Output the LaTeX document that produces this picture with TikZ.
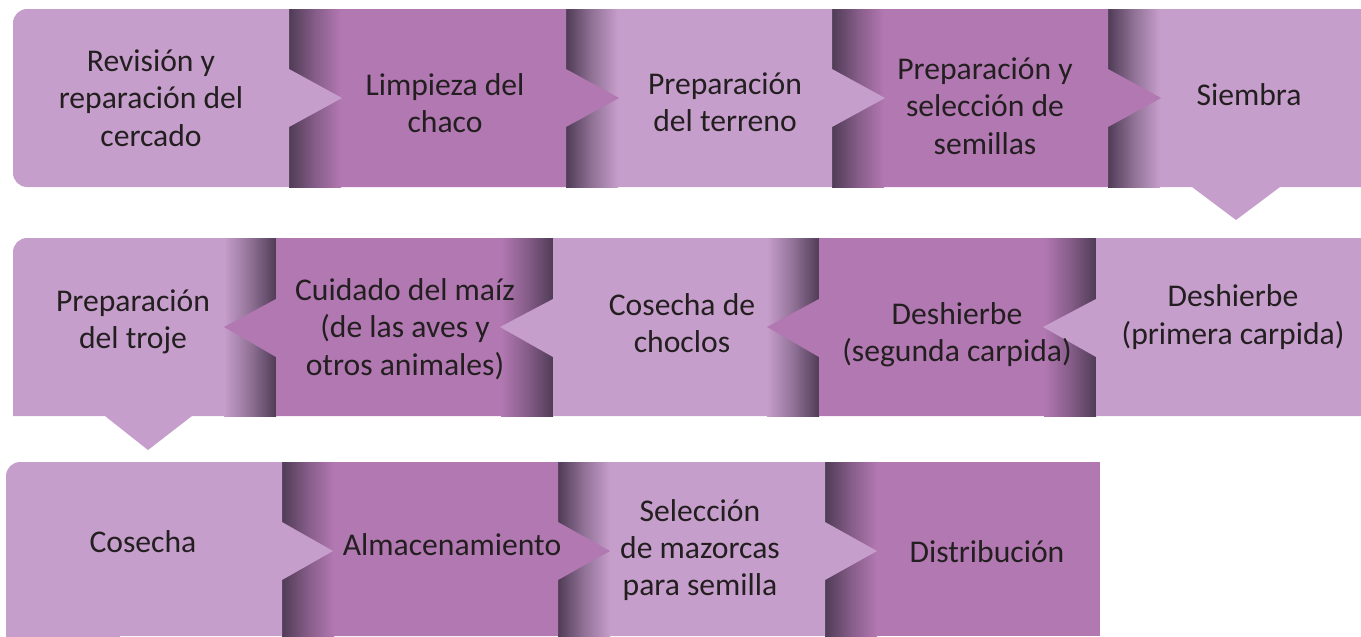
\documentclass[tikz,border=0pt]{standalone}
\usepackage{fontspec}
\setmainfont{Carlito}
\usepackage{tikz}
\usetikzlibrary{shadings}

\definecolor{lilaclight}{RGB}{198,158,203}
\definecolor{lilacdark}{RGB}{178,120,178}
\definecolor{lilacshade}{RGB}{80,60,86}
\definecolor{textgray}{RGB}{35,31,32}

\begin{document}
\begin{tikzpicture} [x=0.02cm, y=-0.02cm,
  light/.style={fill=lilaclight},
  dark/.style={fill=lilacdark},
  shadelight/.style={left color=lilacshade, right color=lilaclight, middle color=lilaclight!55!lilacshade},
  shadedark/.style={left color=lilacshade, right color=lilacdark, middle color=lilacdark!55!lilacshade},
  rshadelight/.style={right color=lilacshade, left color=lilaclight, middle color=lilaclight!55!lilacshade},
  rshadedark/.style={right color=lilacshade, left color=lilacdark, middle color=lilacdark!55!lilacshade},
  step text/.style={text=textgray, align=center, font=\fontsize{18}{21.3}\selectfont}]
\useasboundingbox (0,0) rectangle (1361,636);

% first row, arrows to the right
\fill[light] (1108,9) -- (1361,9) -- (1361,187) -- (1280,187) -- (1236,220) -- (1192,187) -- (1108,187) -- cycle;
\shade[shadelight] (1108,9) rectangle (1160,187);
\fill[dark] (832,9) -- (1108,9) -- (1108,69) -- (1161,98) -- (1108,127) -- (1108,187) -- (832,187) -- cycle;
\shade[shadedark] (832,9) rectangle (884,187);
\fill[light] (566,9) -- (832,9) -- (832,69) -- (885,98) -- (832,127) -- (832,187) -- (566,187) -- cycle;
\shade[shadelight] (566,9) rectangle (618,187);
\fill[dark] (289,9) -- (566,9) -- (566,69) -- (619,98) -- (566,127) -- (566,187) -- (289,187) -- cycle;
\shade[shadedark] (289,9) rectangle (341,187);
\fill[light] [rounded corners=8] (13,9) rectangle (120,187) [sharp corners] (100,9) rectangle (289,187)
  (289,69) -- (342,98) -- (289,127) -- cycle;

\node[step text] (revision) at (151,98) {Revisión y\\reparación del\\cercado};
\node[step text] (limpieza) at (445,103) {Limpieza del\\chaco};
\node[step text] (terreno) at (725,102) {Preparación\\del terreno};
\node[step text] (semillas) at (985,106) {Preparación y\\selección de\\semillas};
\node[step text] (siembra) at (1249,95) {Siembra};

% second row, arrows to the left
\fill[light] [rounded corners=8] (13,238) rectangle (120,330) [sharp corners] (13,300) rectangle (276,416)
  (100,238) rectangle (276,416) (105,416) -- (148,450) -- (192,416) -- cycle;
\shade[rshadelight] (224,238) rectangle (276,416);
\fill[dark] (276,238) -- (553,238) -- (553,416) -- (276,416) -- (276,357) -- (224,327) -- (276,299) -- cycle;
\shade[rshadedark] (501,238) rectangle (553,416);
\fill[light] (553,238) -- (819,238) -- (819,416) -- (553,416) -- (553,357) -- (500,327) -- (553,299) -- cycle;
\shade[rshadelight] (767,238) rectangle (819,416);
\fill[dark] (819,238) -- (1096,238) -- (1096,416) -- (819,416) -- (819,357) -- (767,327) -- (819,299) -- cycle;
\shade[rshadedark] (1044,238) rectangle (1096,416);
\fill[light] (1096,238) -- (1361,238) -- (1361,416) -- (1096,416) -- (1096,357) -- (1043,327) -- (1096,299) -- cycle;

\node[step text] (troje) at (133,322) {Preparación\\del troje};
\node[step text] (cuidado) at (405,329) {Cuidado del maíz\\(de las aves y\\otros animales)};
\node[step text] (choclos) at (682,323) {Cosecha de\\choclos};
\node[step text] (segunda) at (957,335) {Deshierbe\\(segunda carpida)};
\node[step text] (primera) at (1233,317) {Deshierbe\\(primera carpida)};

% third row, arrows to the right
\fill[dark] (825,462) rectangle (1100,636);
\shade[shadedark] (825,462) rectangle (877,636);
\fill[light] (558,462) -- (825,462) -- (825,522) -- (877,551) -- (825,580) -- (825,636) -- (558,636) -- cycle;
\shade[shadelight] (558,462) rectangle (610,636);
\fill[dark] (282,462) -- (558,462) -- (558,522) -- (610,551) -- (558,580) -- (558,636) -- (282,636) -- cycle;
\shade[shadedark] (282,462) rectangle (334,636);
\fill[light] [rounded corners=8] (6,462) rectangle (120,650) [sharp corners] (100,462) rectangle (282,636)
  (282,522) -- (333,551) -- (282,580) -- cycle;

\node[step text] (cosecha) at (143,542) {Cosecha};
\node[step text] (almacen) at (452,545) {Almacenamiento};
\node[step text] (seleccion) at (700,550) {Selección\\de mazorcas\\para semilla};
\node[step text] (distrib) at (987,552) {Distribución};
\end{tikzpicture}
\end{document}
